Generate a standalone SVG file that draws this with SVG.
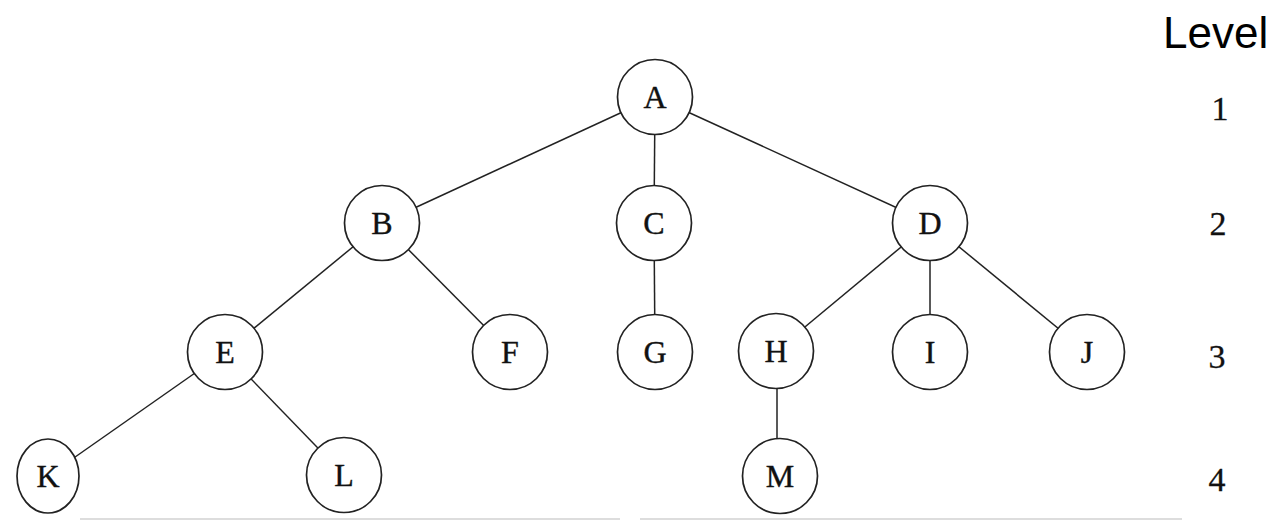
<svg xmlns="http://www.w3.org/2000/svg" width="1280" height="523" viewBox="0 0 1280 523">
<style>
.edge{stroke:#222;stroke-width:1.5;fill:none}
.node circle,.node ellipse{fill:#fff;stroke:#222;stroke-width:1.7}
.node text{font-family:"Liberation Serif","Times New Roman",serif;font-size:32px;fill:#111;stroke:#111;stroke-width:0.4;text-anchor:middle}
.lvl{font-family:"Liberation Serif","Times New Roman",serif;font-size:34px;fill:#111;stroke:#111;stroke-width:0.3;text-anchor:middle}
.hdr{font-family:"Liberation Sans",Arial,sans-serif;font-size:44px;fill:#000}
</style>
<rect width="1280" height="523" fill="#fff"/>
<g id="connectors">
<line class="edge" x1="655" y1="97" x2="382" y2="223"/>
<line class="edge" x1="655" y1="97" x2="654" y2="223"/>
<line class="edge" x1="655" y1="97" x2="930" y2="223"/>
<line class="edge" x1="382" y1="223" x2="225" y2="352"/>
<line class="edge" x1="382" y1="223" x2="510" y2="352"/>
<line class="edge" x1="654" y1="223" x2="655" y2="352"/>
<line class="edge" x1="930" y1="223" x2="776" y2="351"/>
<line class="edge" x1="930" y1="223" x2="930" y2="352"/>
<line class="edge" x1="930" y1="223" x2="1087" y2="352"/>
<line class="edge" x1="225" y1="352" x2="48" y2="476"/>
<line class="edge" x1="225" y1="352" x2="344" y2="475"/>
<line class="edge" x1="777" y1="351" x2="777" y2="476"/>
</g>
<g id="A" class="node"><circle cx="655" cy="97" r="37.5"/><text x="655" y="108">A</text></g>
<g id="B" class="node"><circle cx="382" cy="223" r="37.5"/><text x="382" y="234">B</text></g>
<g id="C" class="node"><circle cx="654" cy="223" r="37.5"/><text x="654" y="234">C</text></g>
<g id="D" class="node"><circle cx="930" cy="223" r="37.5"/><text x="930" y="234">D</text></g>
<g id="E" class="node"><circle cx="225" cy="352" r="37.5"/><text x="225" y="363">E</text></g>
<g id="F" class="node"><circle cx="510" cy="352" r="37.5"/><text x="510" y="363">F</text></g>
<g id="G" class="node"><circle cx="655" cy="352" r="37.5"/><text x="655" y="363">G</text></g>
<g id="H" class="node"><circle cx="776" cy="351" r="37.5"/><text x="776" y="362">H</text></g>
<g id="I" class="node"><circle cx="930" cy="352" r="37.5"/><text x="930" y="363">I</text></g>
<g id="J" class="node"><circle cx="1087" cy="352" r="37.5"/><text x="1087" y="363">J</text></g>
<g id="K" class="node"><ellipse cx="48" cy="476" rx="31" ry="37"/><text x="48" y="487">K</text></g>
<g id="L" class="node"><circle cx="344" cy="475" r="37.5"/><text x="344" y="486">L</text></g>
<g id="M" class="node"><circle cx="780" cy="476" r="37.5"/><text x="780" y="487">M</text></g>
<g id="levels">
<text class="hdr" x="1163" y="48">Level</text>
<text class="lvl" x="1220" y="120">1</text>
<text class="lvl" x="1218" y="235">2</text>
<text class="lvl" x="1217" y="368">3</text>
<text class="lvl" x="1217" y="491">4</text>
</g>
<g id="baseline">
<line x1="80" y1="519" x2="620" y2="519" stroke="#ddd" stroke-width="2"/>
<line x1="640" y1="519" x2="1182" y2="519" stroke="#ddd" stroke-width="2"/>
</g>
</svg>
